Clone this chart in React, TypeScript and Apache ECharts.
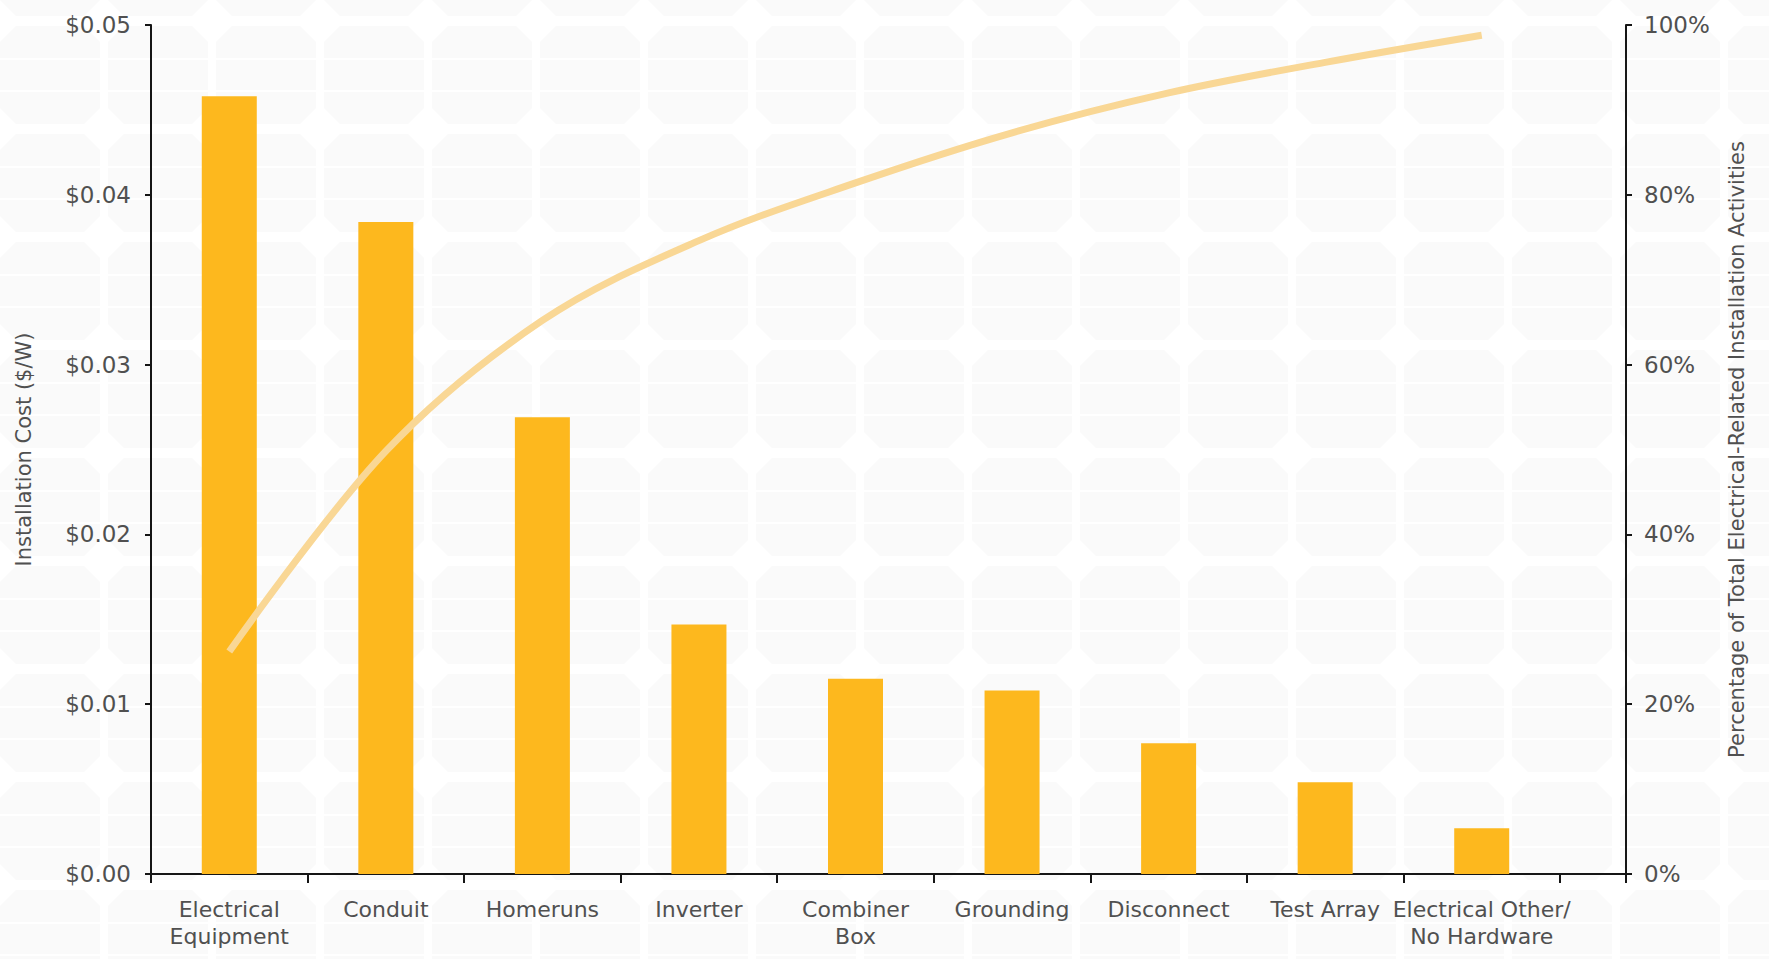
import React, { useEffect, useRef } from "react";
import * as echarts from "echarts";

// ---- data ----
const categories = [
  "Electrical\nEquipment",
  "Conduit",
  "Homeruns",
  "Inverter",
  "Combiner\nBox",
  "Grounding",
  "Disconnect",
  "Test Array",
  "Electrical Other/\nNo Hardware",
];
const installationCost = [0.0458, 0.0384, 0.0269, 0.0147, 0.0115, 0.0108, 0.0077, 0.0054, 0.0027];
const cumulativePercent = [26.2, 49.8, 65.2, 74.6, 81.4, 87.3, 92.0, 95.6, 98.8];
const costAxis = { min: 0, max: 0.05, interval: 0.01 };
const percentAxis = { min: 0, max: 100, interval: 20 };
const leftTitle = "Installation Cost ($/W)";
const rightTitle = "Percentage of Total Electrical-Related Installation Activities";

const W = 1769;
const H = 959;
const FONT = "'DejaVu Sans', 'Open Sans', sans-serif";

function makeTile(): string {
  const c = document.createElement("canvas");
  c.width = 108;
  c.height = 108;
  const g = c.getContext("2d");
  if (!g) return "";
  g.fillStyle = "#ffffff";
  g.fillRect(0, 0, 108, 108);
  g.fillStyle = "#fafafa";
  const w = 100, h = 98, cut = 16;
  g.beginPath();
  g.moveTo(cut, 0);
  g.lineTo(w - cut, 0);
  g.lineTo(w, cut);
  g.lineTo(w, h - cut);
  g.lineTo(w - cut, h);
  g.lineTo(cut, h);
  g.lineTo(0, h - cut);
  g.lineTo(0, cut);
  g.closePath();
  g.fill();
  g.fillStyle = "#ffffff";
  g.fillRect(0, 32, w, 2);
  g.fillRect(0, 64, w, 2);
  return c.toDataURL();
}

export default function App() {
  const ref = useRef<HTMLDivElement>(null);

  useEffect(() => {
    if (!ref.current) return;
    ref.current.style.backgroundImage = `url(${makeTile()})`;
    const chart = echarts.init(ref.current, undefined, { renderer: "svg" });
    const gridLeft = 151;
    const gridTop = 25;
    const gridBottom = 85;
    const gridRightEdge = 1560;
    const rightAxisX = 1626;
    const axisY = H - gridBottom;
    const axisColor = "#151515";
    const labelColor = "#505050";

    chart.setOption({
      animation: false,
      backgroundColor: "transparent",
      grid: {
        left: gridLeft,
        top: gridTop,
        bottom: gridBottom,
        right: W - gridRightEdge,
        containLabel: false,
      },
      xAxis: {
        type: "category",
        data: categories,
        boundaryGap: true,
        axisLine: { show: true, lineStyle: { color: axisColor, width: 2 } },
        axisTick: { show: true, length: 9, lineStyle: { color: axisColor, width: 2 } },
        axisLabel: {
          interval: 0,
          margin: 22,
          color: labelColor,
          fontFamily: FONT,
          fontSize: 22,
          lineHeight: 27,
        },
        splitLine: { show: false },
      },
      yAxis: [
        {
          type: "value",
          min: costAxis.min,
          max: costAxis.max,
          interval: costAxis.interval,
          position: "left",
          name: leftTitle,
          nameLocation: "middle",
          nameGap: 117,
          nameTextStyle: { color: labelColor, fontFamily: FONT, fontSize: 21 },
          axisLine: { show: true, lineStyle: { color: axisColor, width: 2 } },
          axisTick: { show: true, length: 6, lineStyle: { color: axisColor, width: 2 } },
          axisLabel: {
            margin: 20,
            color: labelColor,
            fontFamily: FONT,
            fontSize: 23,
            formatter: (v: number) => "$" + v.toFixed(2),
          },
          splitLine: { show: false },
        },
        {
          type: "value",
          min: percentAxis.min,
          max: percentAxis.max,
          interval: percentAxis.interval,
          position: "right",
          offset: rightAxisX - gridRightEdge,
          name: rightTitle,
          nameLocation: "middle",
          nameGap: 100,
          nameRotate: 90,
          nameTextStyle: { color: labelColor, fontFamily: FONT, fontSize: 21 },
          axisLine: { show: true, lineStyle: { color: axisColor, width: 2 } },
          axisTick: { show: true, length: 6, lineStyle: { color: axisColor, width: 2 } },
          axisLabel: {
            margin: 18,
            color: labelColor,
            fontFamily: FONT,
            fontSize: 23,
            formatter: (v: number) => v + "%",
          },
          splitLine: { show: false },
        },
      ],
      series: [
        {
          type: "bar",
          data: installationCost,
          yAxisIndex: 0,
          barWidth: 55,
          itemStyle: { color: "#FDB81E" },
          z: 2,
        },
        {
          type: "line",
          data: cumulativePercent,
          yAxisIndex: 1,
          smooth: 0.35,
          symbol: "none",
          lineStyle: { color: "#F9D795", width: 7, cap: "butt" },
          z: 3,
        },
      ],
      graphic: [
        {
          type: "line",
          shape: { x1: gridRightEdge, y1: axisY, x2: rightAxisX + 1, y2: axisY },
          style: { stroke: axisColor, lineWidth: 2 },
          z: 10,
        },
        {
          type: "line",
          shape: { x1: rightAxisX, y1: axisY, x2: rightAxisX, y2: axisY + 9 },
          style: { stroke: axisColor, lineWidth: 2 },
          z: 10,
        },
      ],
    });

    return () => {
      chart.dispose();
    };
  }, []);

  return (
    <div
      ref={ref}
      style={{
        position: "fixed",
        left: 0,
        top: 0,
        width: W,
        height: H,
        backgroundColor: "#ffffff",
        backgroundRepeat: "repeat",
        backgroundPosition: "0px 26px",
      }}
    />
  );
}
